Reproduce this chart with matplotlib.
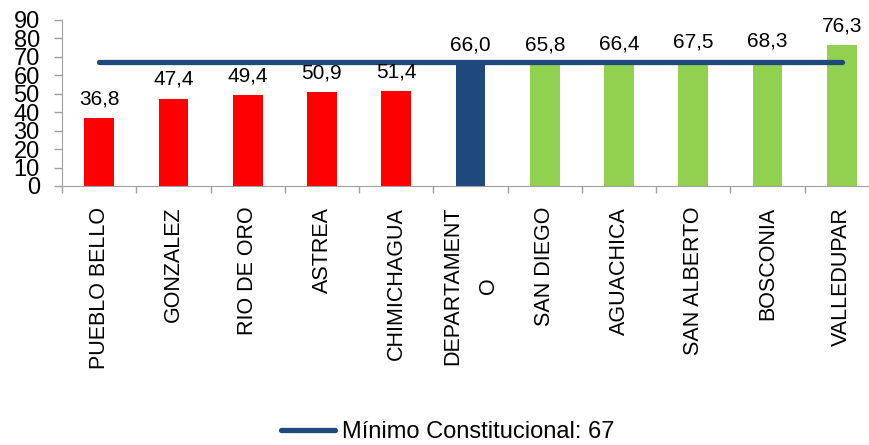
import matplotlib.pyplot as plt
import numpy as np
from matplotlib.lines import Line2D

categories = ["PUEBLO BELLO", "GONZALEZ", "RIO DE ORO", "ASTREA", "CHIMICHAGUA",
              "DEPARTAMENT\nO", "SAN DIEGO", "AGUACHICA", "SAN ALBERTO", "BOSCONIA", "VALLEDUPAR"]
values = [36.8, 47.4, 49.4, 50.9, 51.4, 66.0, 65.8, 66.4, 67.5, 68.3, 76.3]
labels = ["36,8", "47,4", "49,4", "50,9", "51,4", "66,0", "65,8", "66,4", "67,5", "68,3", "76,3"]
groups = ["low"] * 5 + ["dept"] + ["high"] * 5
minimo = 67
legend_label = "Mínimo Constitucional: 67"

colors = {"low": "#FF0000", "dept": "#1F497D", "high": "#92D050"}

plt.rcParams['font.family'] = ['Liberation Sans', 'DejaVu Sans']
fig = plt.figure(figsize=(8.7, 4.45), dpi=100)
W, H = 870, 445
left, right, bottom, top = 62, 879, 186, 20
ax = fig.add_axes([left / W, 1 - bottom / H, (right - left) / W, (bottom - top) / H])

x = np.arange(len(categories))
ax.bar(x, values, width=0.4, color=[colors[g] for g in groups], zorder=2)
ax.plot([x[0], x[-1]], [minimo, minimo], color="#1F497D", lw=3.8,
        solid_capstyle="round", zorder=3)
for xi, v, lab in zip(x, values, labels):
    ax.annotate(lab, (xi, v), xytext=(0, 7), textcoords="offset points",
                ha="center", va="bottom", fontsize=15)

ax.set_xlim(-0.5, len(categories) - 0.5)
ax.set_ylim(0, 90)
ax.set_yticks(np.arange(0, 91, 10))
ax.tick_params(axis='y', labelsize=17, length=6, color="#A0A0A0", pad=10, width=1)
ax.set_xticks(x)
ax.set_xticklabels(categories, rotation=90, fontsize=15.5, va="top", ha="center",
                   multialignment="center", linespacing=1.9)
ax.tick_params(axis='x', length=0, pad=15)
ax.set_xticks(np.arange(-0.5, len(categories), 1), minor=True)
ax.tick_params(axis='x', which='minor', length=5, color="#A0A0A0", width=1)
for s in ["top", "right"]:
    ax.spines[s].set_visible(False)
for s in ["left", "bottom"]:
    ax.spines[s].set_color("#A0A0A0")

handle = Line2D([], [], color="#1F497D", lw=3.8, solid_capstyle="round")
fig.legend([handle], [legend_label], loc="center", bbox_to_anchor=(448 / W, 1 - 432 / H),
           frameon=False, fontsize=17, handlelength=2.3, handletextpad=0.3)

fig.savefig("out.png", dpi=100)
